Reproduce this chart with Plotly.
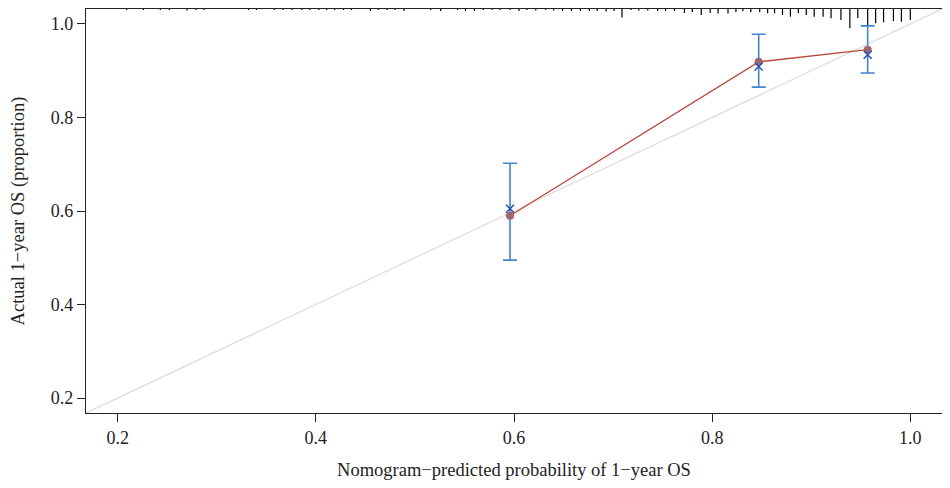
import plotly.graph_objects as go

# calibration groups: mean predicted, observed (model), KM estimate, CI
pred = [0.596, 0.847, 0.957]
observed = [0.590, 0.919, 0.945]
km_est = [0.605, 0.909, 0.934]
ci_low = [0.495, 0.865, 0.895]
ci_high = [0.702, 0.978, 0.996]

# distribution of predicted probabilities (spikes along the top)
rug_x = [0.209, 0.226, 0.243, 0.252, 0.270, 0.279, 0.287, 0.332, 0.340, 0.358, 0.367, 0.376,
         0.386, 0.394, 0.403, 0.411, 0.419, 0.428, 0.436, 0.455, 0.463, 0.472, 0.480, 0.489,
         0.516, 0.526, 0.543, 0.551, 0.560, 0.569, 0.578, 0.586, 0.596, 0.605,
         0.613, 0.622, 0.632, 0.640, 0.649, 0.658, 0.667, 0.676, 0.684, 0.693, 0.701, 0.709,
         0.718, 0.726, 0.735, 0.745, 0.753, 0.762, 0.772, 0.780, 0.789, 0.798, 0.806, 0.816,
         0.824, 0.831, 0.839, 0.848, 0.856, 0.863, 0.871, 0.879, 0.887, 0.895, 0.903, 0.912,
         0.920, 0.930, 0.939, 0.947, 0.957, 0.965, 0.973, 0.983, 0.991, 1.000]
rug_freq = [1, 1, 1, 1, 1.5, 1, 1, 1, 1, 1, 1, 1,
            1, 1, 1, 1, 1, 1, 1, 2, 1, 1, 1, 2,
            1, 2, 1, 2, 2, 1, 1, 1, 1, 2,
            1, 1.5, 1, 1.5, 2, 2, 2, 2, 2, 2.5, 2, 8.5,
            1, 1.5, 1.5, 2, 2, 2, 4, 3, 6, 4, 4.5, 4.5,
            3, 2.3, 3.3, 3.3, 4.3, 4.3, 6, 7.7, 4.3, 6, 7.7, 7.7,
            9.3, 11, 19.3, 9, 16, 14.3, 13.3, 12, 12.7, 11]

lim = [0.168, 1.032]
spike_unit = 0.00214

fig = go.Figure()

# ideal line
fig.add_trace(go.Scatter(x=lim, y=lim, mode="lines",
                         line=dict(color="#dcdcdc", width=1.2), hoverinfo="skip"))

# spikes
sx, sy = [], []
for x, f in zip(rug_x, rug_freq):
    sx += [x, x, None]
    sy += [lim[1], lim[1] - f * spike_unit, None]
fig.add_trace(go.Scatter(x=sx, y=sy, mode="lines", line=dict(color="black", width=1.2),
                         hoverinfo="skip"))

# apparent calibration
fig.add_trace(go.Scatter(x=pred, y=observed, mode="lines+markers",
                         line=dict(color="#b9473f", width=1.3),
                         marker=dict(color="#c75a4f", size=8)))

# KM estimate with CI
err_plus = [h - k for h, k in zip(ci_high, km_est)]
err_minus = [k - l for k, l in zip(km_est, ci_low)]
fig.add_trace(go.Scatter(x=pred, y=km_est, mode="markers",
                         marker=dict(symbol="x-thin", size=8, line=dict(color="#2f4fb0", width=1.5)),
                         error_y=dict(type="data", array=err_plus, arrayminus=err_minus,
                                      color="#3f86cc", thickness=1.6, width=7)))

# page body has an 8px margin, so the figure is shrunk by 8px and margins adjusted
font = "Liberation Serif, Times New Roman, serif"
fig.update_layout(
    width=942, height=480,
    margin=dict(l=78, r=8, t=1, b=75),
    plot_bgcolor="white", paper_bgcolor="white",
    showlegend=False,
    font=dict(family=font, size=18, color="#222"),
)
fig.update_xaxes(range=lim, tickvals=[0.2, 0.4, 0.6, 0.8, 1.0], ticktext=["0.2", "0.4", "0.6", "0.8", "1.0"],
                 ticks="outside", ticklen=8, tickcolor="#222", showgrid=False, zeroline=False,
                 showline=True, linecolor="#222", linewidth=1.2, mirror=True, automargin=False,
                 title=dict(text="Nomogram\u2212predicted probability of 1\u2212year OS", standoff=16,
                            font=dict(size=18.5)))
fig.update_yaxes(range=lim, tickvals=[0.2, 0.4, 0.6, 0.8, 1.0], ticktext=["0.2", "0.4", "0.6", "0.8", "1.0"],
                 ticks="outside", ticklen=8, tickcolor="#222", showgrid=False, zeroline=False,
                 showline=True, linecolor="#222", linewidth=1.2, mirror=True, automargin=False,
                 title=dict(text="Actual 1\u2212year OS (proportion)", standoff=22,
                            font=dict(size=18.5)))

fig.write_html("out.html")
